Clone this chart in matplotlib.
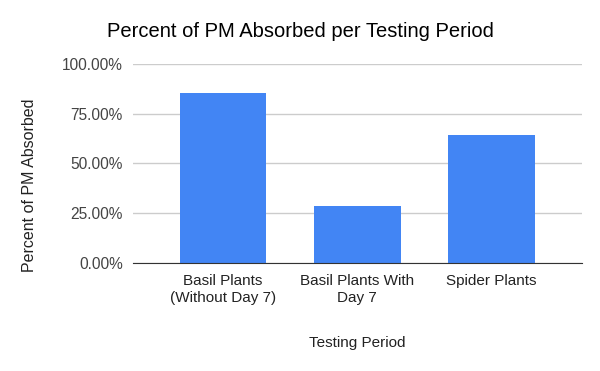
import matplotlib.pyplot as plt
from matplotlib.ticker import PercentFormatter

# Percent of PM absorbed for each testing period
categories = ['Basil Plants\n(Without Day 7)', 'Basil Plants With\nDay 7', 'Spider Plants']
absorbed = [85.5, 28.6, 64.4]
y_ticks = [0, 25, 50, 75, 100]

plt.rcParams['font.family'] = ['Liberation Sans', 'DejaVu Sans']

fig = plt.figure(figsize=(6, 3.71), dpi=100)
ax = fig.add_axes([0.221, 0.292, 0.7485, 0.5347])

ax.bar(range(len(categories)), absorbed, width=0.647, color='#4285F4', zorder=3)

ax.set_xlim(-0.675, 2.675)
ax.set_ylim(0, 100)
ax.set_yticks(y_ticks)
ax.yaxis.set_major_formatter(PercentFormatter(decimals=2))
ax.set_xticks(range(len(categories)))
ax.set_xticklabels(categories, fontsize=11, color='#222222', linespacing=1.25)
ax.tick_params(axis='y', labelsize=11.2, labelcolor='#444444', length=0, pad=7)
ax.tick_params(axis='x', length=0, pad=8)

ax.grid(axis='y', color='#cccccc', linewidth=1, zorder=0)
for side in ['top', 'right', 'left']:
    ax.spines[side].set_visible(False)
ax.spines['bottom'].set_color('#333333')
ax.spines['bottom'].set_zorder(4)

ax.set_xlabel('Testing Period', fontsize=11, color='#222222')
ax.xaxis.set_label_coords(0.5, -0.37)
ax.set_ylabel('Percent of PM Absorbed', fontsize=11.5, color='#222222', va='center')
ax.yaxis.set_label_coords(-0.229, 0.39)
fig.text(0.5, 0.915, 'Percent of PM Absorbed per Testing Period', ha='center', va='center',
         fontsize=14.5, color='#000000')

plt.savefig('out.png')
